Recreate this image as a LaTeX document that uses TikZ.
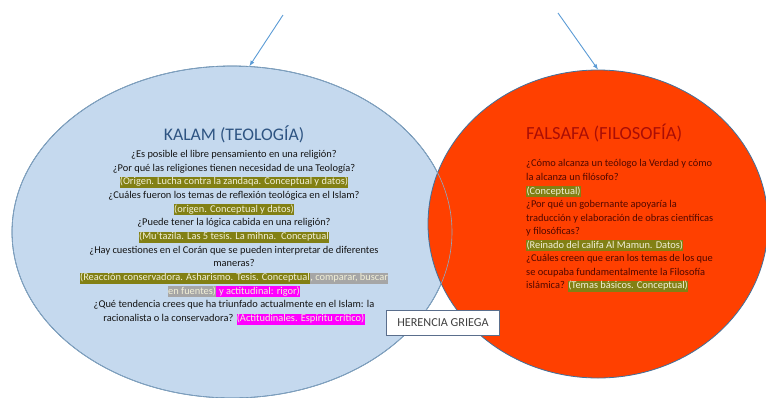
\documentclass[tikz,border=0pt]{standalone}
\usepackage{fontspec}
\setmainfont{Carlito}
\usetikzlibrary{arrows}
\usetikzlibrary{shapes}
\definecolor{kalamFill}{RGB}{197,217,238}
\definecolor{falsafaFill}{RGB}{255,64,0}
\definecolor{rimBlue}{RGB}{65,113,156}
\definecolor{arrowBlue}{RGB}{91,155,213}
\definecolor{kalamInk}{RGB}{46,84,130}
\definecolor{falsafaInk}{RGB}{170,14,6}
\definecolor{bodyInk}{RGB}{20,20,20}
\definecolor{redBodyInk}{RGB}{80,8,0}
\definecolor{oliveMark}{RGB}{130,128,20}
\definecolor{grayMark}{RGB}{166,166,166}
\definecolor{pinkMark}{RGB}{255,0,255}
\definecolor{markInk}{RGB}{242,240,215}
\definecolor{boxRim}{RGB}{90,110,140}
\definecolor{boxInk}{RGB}{64,64,64}
\newcommand{\markbox}[2]{{\setlength{\fboxsep}{0.3pt}\colorbox{#1}{\color{markInk}\rule[-2.8pt]{0pt}{9.2pt}#2}}}
\newcommand{\olive}[1]{\markbox{oliveMark}{#1}}
\newcommand{\grey}[1]{\markbox{grayMark}{#1}}
\newcommand{\pink}[1]{\markbox{pinkMark}{#1}}

\begin{document}
\begin{tikzpicture}[x = 1pt, y = -1pt]
	\tikzstyle{bubbleStyle} = [shape = ellipse, draw = rimBlue, line width = 0.8pt, inner sep = 0pt]
	\tikzstyle{titleStyle} = [inner sep = 0pt]
	\tikzstyle{bodyStyle} = [inner sep = 0pt]
	\tikzstyle{arrowStyle} = [draw = arrowBlue, line width = 0.9pt, -latex]
	\tikzstyle{boxStyle} = [draw = boxRim, fill = white, line width = 0.8pt, minimum width = 113pt, minimum height = 25pt]
	\useasboundingbox (0,0) rectangle (766,397);
	\clip (0,0) rectangle (766,397);
	\node[bubbleStyle, fill = kalamFill, minimum width = 440pt, minimum height = 332pt] (kalam) at (232,232) {};
	\node[bubbleStyle, fill = falsafaFill, minimum width = 340pt, minimum height = 308pt] (falsafa) at (598,224) {};
	\draw[rimBlue!60!white, line width = 0.6pt] (kalam.center) ellipse [x radius = 220, y radius = 166];
	\coordinate (kalamTail) at (283,15);
	\coordinate (falsafaTail) at (558,13);
	\draw[arrowStyle] (kalamTail) -- (kalam.84);
	\draw[arrowStyle] (falsafaTail) -- (falsafa.north);
	\node[titleStyle, anchor = base, text = kalamInk, font = \fontsize{17.7}{20}\selectfont] (kalamTitle) at (234,140) {KALAM (TEOLOGÍA)};
	\node[bodyStyle, anchor = north, align = center, text = bodyInk, font = \fontsize{10.4}{13.67}\selectfont] (kalamText) at (234,150) {¿Es posible el libre pensamiento en una religión?\\
		¿Por qué las religiones tienen necesidad de una Teología?\\
		\olive{(Origen. Lucha contra la zandaqa. Conceptual y datos)}\\
		¿Cuáles fueron los temas de reflexión teológica en el Islam?\\
		\olive{(origen. Conceptual y datos)}\\
		¿Puede tener la lógica cabida en una religión?\\
		\olive{(Mu`tazila. Las 5 tesis. La mihna.\ \ Conceptual}\\
		¿Hay cuestiones en el Corán que se pueden interpretar de diferentes\\
		maneras?\\
		\olive{(Reacción conservadora. Asharismo. Tesis. Conceptual}\grey{, comparar, buscar}\\
		\grey{en fuentes)}\pink{ y actitudinal: rigor)}\\
		¿Qué tendencia crees que ha triunfado actualmente en el Islam: la\\
		racionalista o la conservadora? \pink{(Actitudinales. Espíritu crítico)}};
	\node[titleStyle, anchor = base west, text = falsafaInk, font = \fontsize{18.5}{21}\selectfont] (falsafaTitle) at (526,139) {FALSAFA (FILOSOFÍA)};
	\node[bodyStyle, anchor = north west, align = left, text = redBodyInk, font = \fontsize{10.4}{13.56}\selectfont] (falsafaText) at (526,159.5) {¿Cómo alcanza un teólogo la Verdad y cómo\\
		la alcanza un filósofo?\\
		\olive{(Conceptual)}\\
		¿Por qué un gobernante apoyaría la\\
		traducción y elaboración de obras científicas\\
		y filosóficas?\\
		\olive{(Reinado del califa Al Mamun. Datos)}\\
		¿Cuáles creen que eran los temas de los que\\
		se ocupaba fundamentalmente la Filosofía\\
		islámica? \olive{(Temas básicos. Conceptual)}};
	\node[boxStyle, text = boxInk, font = \fontsize{12.2}{14}\selectfont] (herencia) at (443,322.5) {HERENCIA GRIEGA};
\end{tikzpicture}
\end{document}
